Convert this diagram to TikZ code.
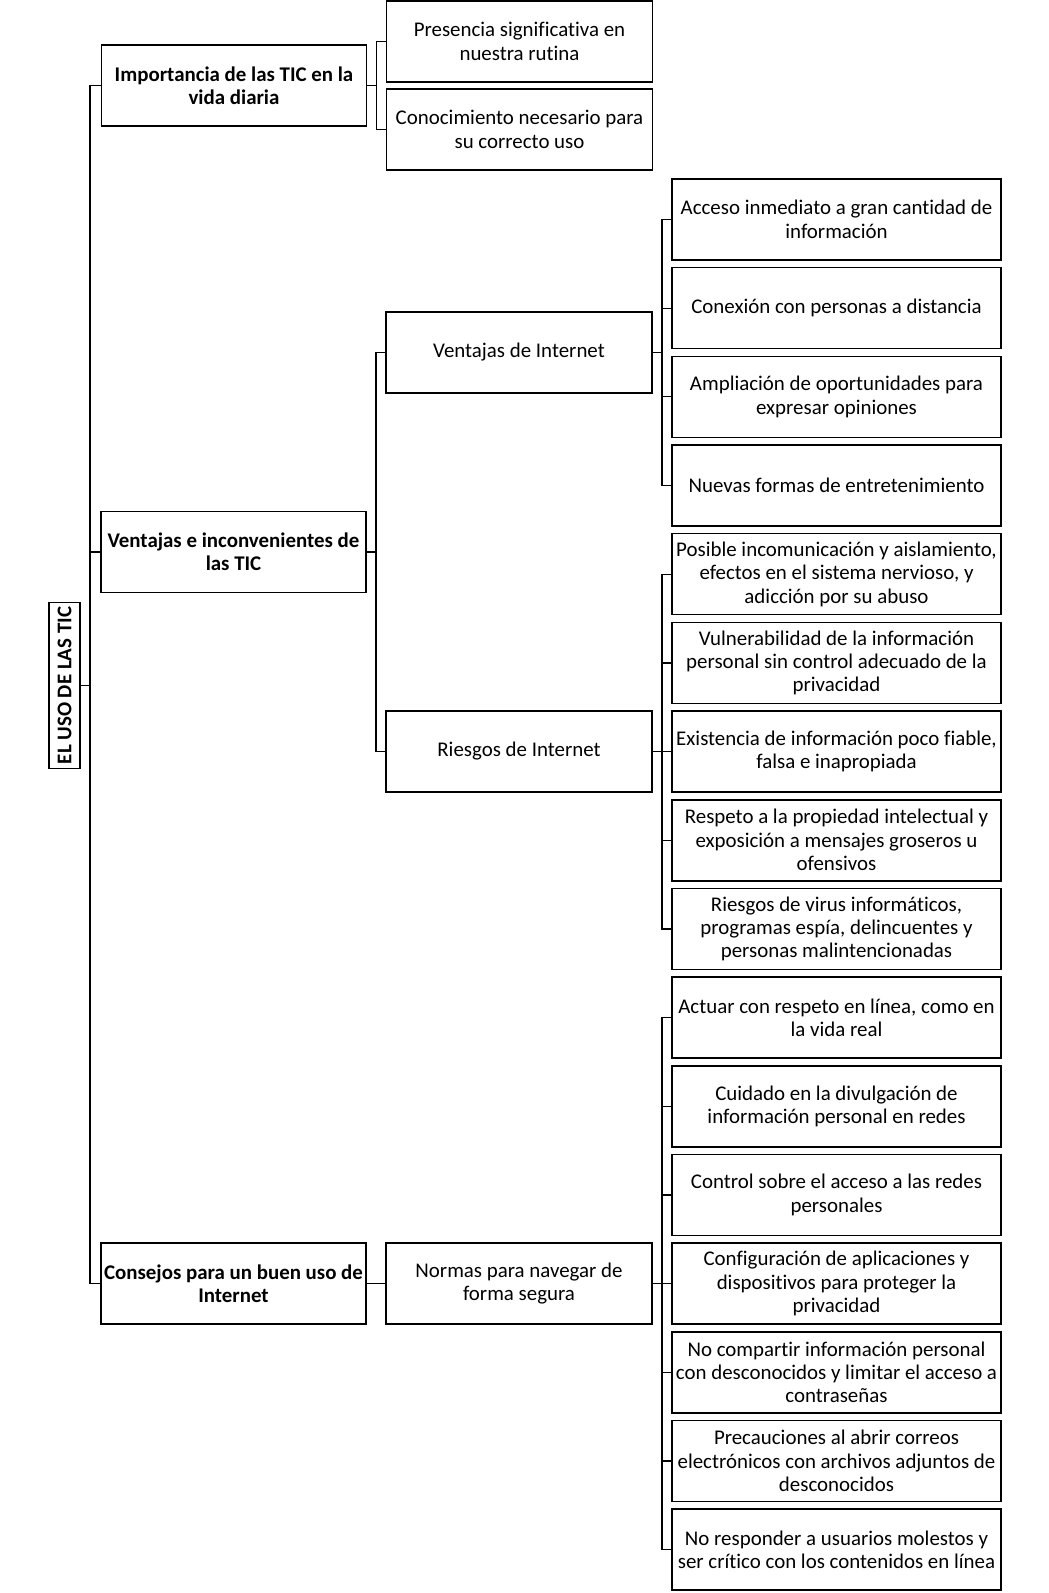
\documentclass[tikz,border=0pt]{standalone}
\usepackage{fontspec}
\setmainfont{Carlito}[Ligatures=NoCommon]
\usetikzlibrary{positioning,calc}

\begin{document}
\begin{tikzpicture}[
    x=1pt, y=-1pt,
    font=\fontsize{20.9}{23.4}\selectfont,
    root_box/.style={draw=black, line width=1.6pt, outer sep=0pt, rotate=90, inner sep=2pt, minimum width=166pt, minimum height=31pt, font=\fontsize{20.9}{23.4}\selectfont\bfseries},
    main_box/.style={draw=black, line width=1.6pt, outer sep=0pt, align=center, inner sep=2pt, minimum width=265pt, minimum height=81pt, font=\fontsize{20.9}{23.4}\selectfont\bfseries},
    sub_box/.style={draw=black, line width=1.6pt, outer sep=0pt, align=center, inner sep=2pt, minimum width=266pt, minimum height=81pt},
    leaf_box/.style={draw=black, line width=1.6pt, outer sep=0pt, align=center, inner sep=2pt, minimum width=329pt, minimum height=81pt},
    link/.style={draw=black, line width=1.3pt}
]
\useasboundingbox (0,0) rectangle (1049,1593);

% LEAVES
\node[leaf_box] (acceso) at (836.5,219.5) {Acceso inmediato a gran cantidad de\\información};
\node[leaf_box, below=7.67pt of acceso] (conexion) {Conexión con personas a distancia};
\node[leaf_box, below=7.67pt of conexion] (ampliac) {Ampliación de oportunidades para\\expresar opiniones};
\node[leaf_box, below=7.67pt of ampliac] (entret) {Nuevas formas de entretenimiento};
\node[leaf_box, below=7.67pt of entret] (incomun) {Posible incomunicación y aislamiento,\\efectos en el sistema nervioso, y\\adicción por su abuso};
\node[leaf_box, below=7.67pt of incomun] (vulner) {Vulnerabilidad de la información\\personal sin control adecuado de la\\privacidad};
\node[leaf_box, below=7.67pt of vulner] (existe) {Existencia de información poco fiable,\\falsa e inapropiada};
\node[leaf_box, below=7.67pt of existe] (respeto) {Respeto a la propiedad intelectual y\\exposición a mensajes groseros u\\ofensivos};
\node[leaf_box, below=7.67pt of respeto] (virus) {Riesgos de virus informáticos,\\programas espía, delincuentes y\\personas malintencionadas};
\node[leaf_box, below=7.67pt of virus] (actuar) {Actuar con respeto en línea, como en\\la vida real};
\node[leaf_box, below=7.67pt of actuar] (cuidado) {Cuidado en la divulgación de\\información personal en redes};
\node[leaf_box, below=7.67pt of cuidado] (control) {Control sobre el acceso a las redes\\personales};
\node[leaf_box, below=7.67pt of control] (config) {Configuración de aplicaciones y\\dispositivos para proteger la\\privacidad};
\node[leaf_box, below=7.67pt of config] (nocomp) {No compartir información personal\\con desconocidos y limitar el acceso a\\contraseñas};
\node[leaf_box, below=7.67pt of nocomp] (precau) {Precauciones al abrir correos\\electrónicos con archivos adjuntos de\\desconocidos};
\node[leaf_box, below=7.67pt of precau] (noresp) {No responder a usuarios molestos y\\ser crítico con los contenidos en línea};

% SECOND LEVEL
\node[sub_box] (pres) at (519.5,41.5) {Presencia significativa en\\nuestra rutina};
\node[sub_box, below=7pt of pres] (cono) {Conocimiento necesario para\\su correcto uso};
\coordinate (vmid) at ($(acceso.west)!0.5!(entret.west)$);
\node[sub_box, left=20pt of vmid] (ventint) {Ventajas de Internet};
\node[sub_box, left=20pt of existe] (riesgos) {Riesgos de Internet};
\node[sub_box, left=20pt of config] (normas) {Normas para navegar de\\forma segura};

% FIRST LEVEL
\coordinate (imid) at ($(pres.west)!0.5!(cono.west)$);
\node[main_box, left=20pt of imid] (imp) {Importancia de las TIC en la\\vida diaria};
\coordinate (vimid) at ($(ventint.west)!0.5!(riesgos.west)$);
\node[main_box, left=20pt of vimid] (ventinc) {Ventajas e inconvenientes de\\las TIC};
\node[main_box, left=20pt of normas] (consejos) {Consejos para un buen uso de\\Internet};

% ROOT
\node[root_box] (root) at (64.5,685.5) {EL USO DE LAS TIC};

% CONNECTORS
\draw[link] (root.south) -- ++(10,0) |- (imp.west);
\draw[link] (root.south) -- ++(10,0) |- (ventinc.west);
\draw[link] (root.south) -- ++(10,0) |- (consejos.west);

\draw[link] (imp.east) -- ++(10,0) |- (pres.west);
\draw[link] (imp.east) -- ++(10,0) |- (cono.west);

\draw[link] (ventinc.east) -- ++(10,0) |- (ventint.west);
\draw[link] (ventinc.east) -- ++(10,0) |- (riesgos.west);

\draw[link] (consejos.east) -- (normas.west);

\draw[link] (ventint.east) -- ++(10,0) |- (acceso.west);
\draw[link] (ventint.east) -- ++(10,0) |- (conexion.west);
\draw[link] (ventint.east) -- ++(10,0) |- (ampliac.west);
\draw[link] (ventint.east) -- ++(10,0) |- (entret.west);

\draw[link] (riesgos.east) -- ++(10,0) |- (incomun.west);
\draw[link] (riesgos.east) -- ++(10,0) |- (vulner.west);
\draw[link] (riesgos.east) -- ++(10,0) |- (existe.west);
\draw[link] (riesgos.east) -- ++(10,0) |- (respeto.west);
\draw[link] (riesgos.east) -- ++(10,0) |- (virus.west);

\draw[link] (normas.east) -- ++(10,0) |- (actuar.west);
\draw[link] (normas.east) -- ++(10,0) |- (cuidado.west);
\draw[link] (normas.east) -- ++(10,0) |- (control.west);
\draw[link] (normas.east) -- ++(10,0) |- (config.west);
\draw[link] (normas.east) -- ++(10,0) |- (nocomp.west);
\draw[link] (normas.east) -- ++(10,0) |- (precau.west);
\draw[link] (normas.east) -- ++(10,0) |- (noresp.west);

\end{tikzpicture}
\end{document}
